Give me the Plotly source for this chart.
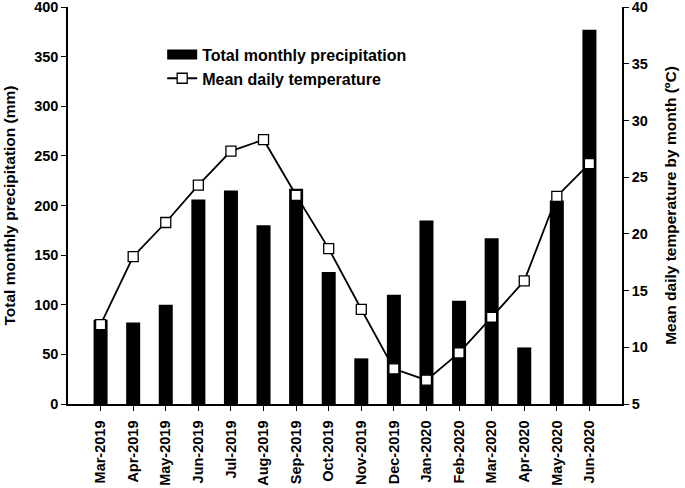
import plotly.graph_objects as go

months = ["Mar-2019", "Apr-2019", "May-2019", "Jun-2019", "Jul-2019", "Aug-2019",
          "Sep-2019", "Oct-2019", "Nov-2019", "Dec-2019", "Jan-2020", "Feb-2020",
          "Mar-2020", "Apr-2020", "May-2020", "Jun-2020"]
precip_mm = [85, 82, 100, 206, 215, 180, 217, 133, 46, 110, 185, 104, 167, 57, 205, 377]
temp_c = [12.0, 18.0, 21.0, 24.3, 27.3, 28.3, 23.4, 18.7, 13.35, 8.1, 7.1, 9.5,
          12.65, 15.85, 23.3, 26.2]

FONT = "Arial, Liberation Sans, sans-serif"

fig = go.Figure()
fig.add_trace(go.Bar(
    x=months, y=precip_mm, name="Total monthly precipitation",
    marker=dict(color="black", line=dict(color="black", width=0)),
    width=0.43, yaxis="y", showlegend=False, legendgroup="p"))
# legend entry for bars drawn as a wide black rectangle (as in reference)
fig.add_trace(go.Scatter(
    x=[None], y=[None], name="Total monthly precipitation", mode="lines",
    line=dict(color="black", width=12), legendgroup="p", yaxis="y"))
fig.add_trace(go.Scatter(
    x=months, y=temp_c, name="Mean daily temperature", yaxis="y2",
    mode="lines+markers",
    line=dict(color="black", width=1.8),
    marker=dict(symbol="square", size=10, color="white",
                line=dict(color="black", width=1.3))))

tick_font = dict(family=FONT, size=14.5, color="black", weight="bold")
title_font = dict(family=FONT, size=15.5, color="black", weight="bold")
legend_font = dict(family=FONT, size=16, color="black", weight="bold")

common = dict(showline=True, linecolor="black", linewidth=1.5,
              ticks="outside", ticklen=5, tickwidth=1.2, tickcolor="black",
              showgrid=False, zeroline=False, tickfont=tick_font,
              ticklabeloverflow="allow")

fig.update_layout(
    width=685, height=488,
    margin=dict(l=68, r=63, t=7, b=84, autoexpand=False),
    paper_bgcolor="white", plot_bgcolor="white",
    font=dict(family=FONT, size=14, color="black", weight="bold"),
    showlegend=True,
    legend=dict(x=0.17, y=0.923, xanchor="left", yanchor="top",
                bgcolor="rgba(0,0,0,0)", font=legend_font,
                tracegroupgap=0, itemwidth=30, traceorder="normal"),
    xaxis=dict(type="category", range=[-1, 16], tickangle=-90,
               ticklabelstandoff=4, **common),
    yaxis=dict(range=[0, 400], dtick=50,
               title=dict(text="Total monthly precipitation (mm)", font=title_font, standoff=15),
               **common),
    yaxis2=dict(range=[5, 40], dtick=5, overlaying="y", side="right",
                title=dict(text="Mean daily temperature by month (\u00baC)", font=title_font, standoff=18),
                **common),
)

fig.write_html("out.html", config={"displayModeBar": False},
               post_script="document.body.style.margin='0px';")
